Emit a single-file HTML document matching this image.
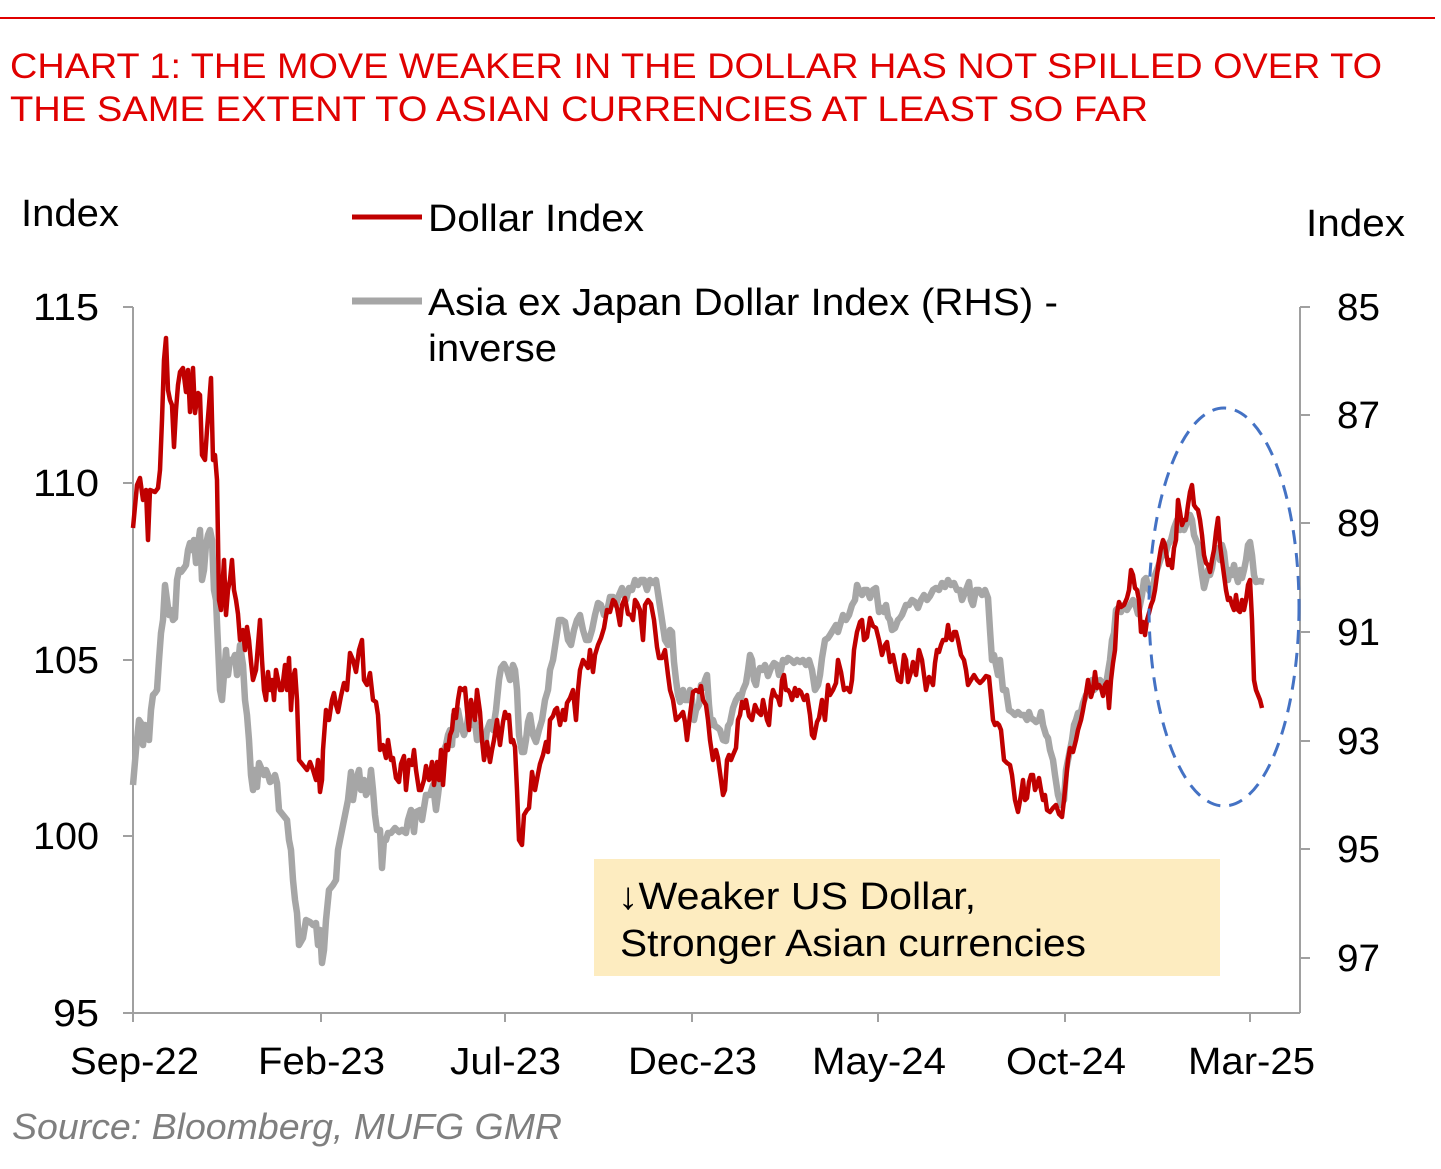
<!DOCTYPE html>
<html><head><meta charset="utf-8"><style>
html,body{margin:0;padding:0;background:#fff;}
svg{display:block;font-family:"Liberation Sans",Arial,sans-serif;}
</style></head><body>
<svg width="1441" height="1169" viewBox="0 0 1441 1169" xmlns="http://www.w3.org/2000/svg">
<line x1="0" y1="18" x2="1435" y2="18" stroke="#e00000" stroke-width="2"/>
<text x="10" y="78" font-size="35" fill="#e00000" textLength="1372" lengthAdjust="spacingAndGlyphs">CHART 1: THE MOVE WEAKER IN THE DOLLAR HAS NOT SPILLED OVER TO</text>
<text x="10" y="121" font-size="35" fill="#e00000" textLength="1138" lengthAdjust="spacingAndGlyphs">THE SAME EXTENT TO ASIAN CURRENCIES AT LEAST SO FAR</text>

<g font-size="38" fill="#000" lengthAdjust="spacingAndGlyphs">
<text x="21" y="226" textLength="98" lengthAdjust="spacingAndGlyphs">Index</text>
<text x="1306" y="236" textLength="99" lengthAdjust="spacingAndGlyphs">Index</text>
<text x="428" y="231" textLength="216" lengthAdjust="spacingAndGlyphs">Dollar Index</text>
<text x="428" y="315" textLength="630" lengthAdjust="spacingAndGlyphs">Asia ex Japan Dollar Index (RHS) -</text>
<text x="428" y="361" textLength="129" lengthAdjust="spacingAndGlyphs">inverse</text>
</g>
<line x1="352" y1="217" x2="422" y2="217" stroke="#c00000" stroke-width="5"/>
<line x1="352" y1="301" x2="422" y2="301" stroke="#a6a6a6" stroke-width="7"/>

<g stroke="#a0a0a0" stroke-width="2" fill="none">
<line x1="133" y1="307" x2="133" y2="1013"/>
<line x1="1300" y1="307" x2="1300" y2="1013"/>
<line x1="133" y1="1013" x2="1300" y2="1013"/>
<line x1="123" y1="307" x2="133" y2="307"/><line x1="123" y1="483" x2="133" y2="483"/><line x1="123" y1="660" x2="133" y2="660"/><line x1="123" y1="836" x2="133" y2="836"/><line x1="123" y1="1013" x2="133" y2="1013"/>
<line x1="1300" y1="307" x2="1310" y2="307"/><line x1="1300" y1="415" x2="1310" y2="415"/><line x1="1300" y1="523" x2="1310" y2="523"/><line x1="1300" y1="632" x2="1310" y2="632"/><line x1="1300" y1="741" x2="1310" y2="741"/><line x1="1300" y1="849" x2="1310" y2="849"/><line x1="1300" y1="958" x2="1310" y2="958"/>
<line x1="133" y1="1013" x2="133" y2="1022"/><line x1="321" y1="1013" x2="321" y2="1022"/><line x1="505" y1="1013" x2="505" y2="1022"/><line x1="692" y1="1013" x2="692" y2="1022"/><line x1="878" y1="1013" x2="878" y2="1022"/><line x1="1065" y1="1013" x2="1065" y2="1022"/><line x1="1250" y1="1013" x2="1250" y2="1022"/>
</g>
<g font-size="38" fill="#000">
<text x="33" y="320" textLength="66" lengthAdjust="spacingAndGlyphs">115</text>
<text x="33" y="496" textLength="66" lengthAdjust="spacingAndGlyphs">110</text>
<text x="33" y="673" textLength="66" lengthAdjust="spacingAndGlyphs">105</text>
<text x="33" y="849" textLength="66" lengthAdjust="spacingAndGlyphs">100</text>
<text x="53" y="1026" textLength="46" lengthAdjust="spacingAndGlyphs">95</text>
<text x="1337" y="320" textLength="43" lengthAdjust="spacingAndGlyphs">85</text>
<text x="1337" y="428" textLength="43" lengthAdjust="spacingAndGlyphs">87</text>
<text x="1337" y="536" textLength="43" lengthAdjust="spacingAndGlyphs">89</text>
<text x="1337" y="645" textLength="43" lengthAdjust="spacingAndGlyphs">91</text>
<text x="1337" y="754" textLength="43" lengthAdjust="spacingAndGlyphs">93</text>
<text x="1337" y="862" textLength="43" lengthAdjust="spacingAndGlyphs">95</text>
<text x="1337" y="971" textLength="43" lengthAdjust="spacingAndGlyphs">97</text>
<text x="70" y="1074" textLength="129" lengthAdjust="spacingAndGlyphs">Sep-22</text>
<text x="258" y="1074" textLength="127" lengthAdjust="spacingAndGlyphs">Feb-23</text>
<text x="450" y="1074" textLength="111" lengthAdjust="spacingAndGlyphs">Jul-23</text>
<text x="628" y="1074" textLength="129" lengthAdjust="spacingAndGlyphs">Dec-23</text>
<text x="812" y="1074" textLength="134" lengthAdjust="spacingAndGlyphs">May-24</text>
<text x="1006" y="1074" textLength="120" lengthAdjust="spacingAndGlyphs">Oct-24</text>
<text x="1188" y="1074" textLength="127" lengthAdjust="spacingAndGlyphs">Mar-25</text>
</g>

<rect x="594" y="859" width="626" height="117" fill="#fdecc0"/>
<text x="618" y="909" font-size="38" fill="#000" textLength="358" lengthAdjust="spacingAndGlyphs">↓Weaker US Dollar,</text>
<text x="620" y="956" font-size="38" fill="#000" textLength="466" lengthAdjust="spacingAndGlyphs">Stronger Asian currencies</text>

<polyline fill="none" stroke="#a6a6a6" stroke-width="6.5" stroke-linejoin="round" points="133,785 136,750 139,720 141,723 143,745 145,725 147,730 149,740 151,710 153,695 155,693 157,690 159,660 161,633 163,620 165,585 167,600 169,615 171,610 173,620 175,618 177,580 179,570 181,572 184,568 186,565 188,550 190,543 192,550 194,540 196,563 198,545 200,530 202,580 204,570 206,545 208,535 210,530 212,540 214,590 216,600 218,645 220,690 222,700 224,675 226,650 228,675 230,660 233,660 235,655 237,675 240,645 243,665 245,700 247,715 249,740 251,775 253,790 255,770 257,787 259,763 262,770 264,775 266,770 268,775 270,782 273,780 275,775 277,783 279,810 283,815 287,820 289,840 291,850 293,880 295,900 297,913 299,945 303,938 306,920 310,922 313,925 316,923 318,945 320,930 322,963 324,950 326,920 329,890 333,885 336,880 338,850 340,840 342,830 345,815 348,800 351,772 353,800 356,780 359,770 361,790 364,780 366,795 369,790 371,770 373,790 375,815 377,830 380,830 382,868 384,840 386,840 388,833 391,833 395,828 399,832 402,830 406,833 408,820 411,810 414,832 416,812 420,810 422,820 426,795 430,795 433,785 436,810 438,795 441,770 444,750 446,745 448,735 450,730 452,745 454,715 456,735 458,710 461,726 464,735 467,725 469,710 472,725 475,722 477,740 479,730 482,740 485,745 487,730 490,722 493,730 496,710 499,680 501,668 504,664 507,670 510,680 513,665 515,670 517,690 519,735 522,752 524,752 526,740 528,722 530,715 533,735 536,742 539,730 542,720 545,700 548,690 550,670 553,660 556,640 559,620 562,620 565,622 568,640 571,645 574,630 577,620 580,615 583,630 586,640 589,640 592,630 595,615 598,603 601,605 604,615 607,612 610,597 613,597 616,605 619,595 622,588 626,600 629,588 632,590 635,580 638,585 641,580 644,580 647,590 650,580 653,583 656,580 659,600 662,620 665,640 668,645 670,630 672,632 674,662 676,680 678,695 680,702 683,690 685,700 688,700 690,690 692,700 694,720 696,710 699,705 701,685 703,688 705,680 707,675 709,705 711,725 713,720 715,726 718,728 720,730 723,740 726,741 728,726 730,723 733,708 736,700 739,695 741,698 743,690 746,683 748,670 750,655 752,660 754,680 756,685 758,672 760,668 762,670 765,665 768,676 771,668 774,663 777,665 779,675 781,670 783,660 786,662 788,658 791,660 794,663 797,660 800,662 803,660 806,665 809,660 812,670 815,690 818,685 820,675 822,658 825,640 828,638 830,635 833,630 836,625 838,632 840,625 843,615 846,620 849,615 852,605 855,600 857,585 859,590 862,595 864,590 867,590 870,598 873,590 876,588 879,612 882,608 884,612 886,605 888,617 890,620 892,630 895,628 898,620 900,618 902,615 904,610 906,605 909,605 912,600 915,602 918,608 921,600 924,595 927,600 930,596 933,590 936,588 939,590 942,583 945,587 948,580 951,585 954,583 957,590 960,590 962,600 964,595 966,590 969,582 971,600 973,605 976,590 979,590 982,595 985,590 988,598 990,630 992,660 994,655 996,665 998,675 1000,660 1003,690 1006,690 1009,710 1012,712 1015,715 1018,712 1021,715 1024,715 1027,720 1029,712 1031,718 1034,720 1036,722 1039,720 1041,712 1043,725 1046,735 1048,738 1050,750 1053,760 1055,775 1058,795 1061,805 1064,800 1066,770 1069,755 1072,740 1074,725 1076,720 1078,713 1081,712 1083,703 1086,695 1088,693 1090,683 1092,680 1094,690 1096,688 1098,682 1100,680 1102,684 1104,682 1106,685 1108,672 1110,660 1112,640 1114,633 1116,610 1118,608 1121,612 1124,605 1127,610 1130,605 1133,600 1135,603 1138,614 1140,605 1142,595 1144,580 1146,578 1149,590 1152,595 1155,575 1158,567 1161,558 1163,550 1165,555 1168,545 1171,540 1174,528 1177,520 1180,530 1182,522 1184,530 1186,525 1188,515 1190,515 1192,520 1194,535 1196,540 1198,545 1200,560 1202,575 1204,588 1206,580 1208,570 1210,575 1212,568 1214,555 1216,548 1218,550 1220,560 1222,545 1224,552 1226,570 1228,580 1230,570 1232,575 1234,565 1236,575 1238,582 1240,570 1242,578 1244,570 1246,560 1248,545 1250,542 1252,555 1254,575 1256,582 1260,581 1264,582"/>

<polyline fill="none" stroke="#c00000" stroke-width="4.5" stroke-linejoin="round" points="133,528 137,485 140,478 143,500 146,490 148,540 150,490 155,492 158,488 160,470 162,420 164,360 166,338 168,390 170,400 172,405 174,447 176,410 178,385 180,372 183,368 186,392 188,370 190,412 193,368 195,413 198,393 200,395 202,455 205,460 207,430 209,405 211,378 213,460 215,455 217,480 219,600 221,610 224,560 226,615 228,590 230,580 232,560 234,590 236,600 238,614 240,640 243,630 245,650 247,627 249,640 251,662 253,680 256,670 258,645 260,620 262,660 264,690 266,700 268,672 270,690 272,680 274,700 276,670 278,680 280,690 282,690 285,665 287,690 289,658 291,710 293,678 295,670 297,700 299,760 303,765 307,770 310,762 313,770 316,780 318,760 320,792 322,780 323,750 326,710 329,720 332,700 334,693 336,705 338,712 341,696 344,683 347,690 350,653 353,660 356,672 359,650 362,640 364,680 367,685 370,673 373,700 376,702 378,715 380,750 383,745 386,758 388,740 391,760 393,758 396,778 399,782 401,764 404,756 406,790 409,760 412,765 414,750 416,770 419,790 421,790 424,780 426,766 429,780 432,762 434,785 437,762 439,780 441,750 443,785 446,745 448,750 450,735 452,730 454,710 456,718 458,700 460,688 463,690 465,688 467,710 469,730 471,700 473,710 475,720 477,690 480,712 482,740 484,760 487,742 490,762 492,750 494,740 497,720 500,745 503,722 505,712 507,718 509,715 511,742 513,740 515,747 517,790 519,840 522,845 524,815 527,810 529,808 532,772 535,790 538,774 540,764 543,755 546,742 548,752 550,720 553,716 555,710 557,708 560,725 563,710 565,720 567,703 570,698 573,690 576,720 578,690 580,670 583,660 585,663 588,668 590,650 593,672 595,655 598,645 601,638 604,628 607,610 610,612 613,600 615,602 617,608 620,625 622,605 625,598 628,614 631,615 633,620 635,600 637,603 640,610 643,640 645,605 648,600 651,604 654,620 657,647 659,658 662,658 665,650 668,675 670,690 673,700 676,720 678,718 680,716 683,712 685,722 687,740 690,715 693,692 696,690 699,692 701,686 703,700 706,705 708,720 710,740 713,760 716,750 718,758 721,780 723,795 725,790 727,760 729,755 731,760 733,755 736,748 738,720 740,715 742,702 744,708 746,700 749,716 752,720 755,705 758,712 761,715 763,700 765,710 767,720 769,725 771,700 773,690 775,695 778,698 780,705 782,680 784,675 786,690 788,690 790,693 792,700 795,688 797,696 799,690 801,692 804,700 807,695 810,715 812,735 814,738 817,722 819,718 822,700 825,720 828,685 830,695 833,690 836,683 838,660 841,672 844,690 847,688 850,692 852,680 854,650 857,632 860,622 862,620 864,640 867,637 870,618 873,626 876,628 879,640 882,655 885,645 887,642 890,662 893,655 896,670 898,680 901,682 904,655 906,660 908,682 911,672 913,662 916,675 919,650 922,660 924,675 926,690 929,677 931,680 933,685 935,663 937,650 939,652 941,645 943,640 946,640 948,625 950,638 952,640 954,632 956,632 958,640 961,655 964,660 966,670 968,685 971,680 974,675 977,680 980,683 983,680 986,676 989,677 991,698 993,720 995,725 997,723 999,725 1001,730 1004,760 1007,763 1010,765 1012,775 1015,800 1018,812 1021,795 1023,780 1025,800 1027,798 1029,782 1031,775 1033,775 1035,790 1037,785 1039,778 1041,790 1043,800 1045,795 1047,810 1050,812 1053,808 1056,805 1059,814 1062,817 1064,800 1066,780 1068,760 1070,748 1073,752 1076,740 1078,730 1081,720 1083,710 1086,693 1088,680 1091,697 1093,690 1095,672 1097,688 1099,685 1101,688 1103,696 1105,685 1107,682 1109,708 1111,680 1113,663 1115,650 1117,613 1119,602 1121,607 1124,605 1127,598 1129,590 1131,570 1133,575 1135,588 1137,590 1139,600 1141,632 1143,622 1145,635 1147,620 1149,613 1151,605 1153,600 1155,590 1157,575 1159,560 1161,548 1163,540 1165,545 1168,565 1170,560 1172,568 1174,548 1176,540 1178,500 1180,512 1182,525 1184,520 1186,520 1188,505 1190,492 1192,485 1194,505 1196,508 1198,510 1200,520 1202,535 1204,555 1206,563 1208,565 1210,572 1212,560 1214,550 1216,532 1218,518 1220,545 1222,560 1224,575 1226,590 1228,600 1230,598 1232,605 1234,610 1236,595 1238,610 1240,612 1242,600 1244,610 1246,600 1248,585 1250,580 1252,620 1254,680 1256,690 1258,695 1260,700 1262,708"/>

<ellipse cx="1224" cy="607" rx="75" ry="199" fill="none" stroke="#4472c4" stroke-width="3" stroke-dasharray="14,9"/>

<text x="12" y="1139" font-size="36" font-style="italic" fill="#7f7f7f" textLength="550" lengthAdjust="spacingAndGlyphs">Source: Bloomberg, MUFG GMR</text>
</svg>
</body></html>
